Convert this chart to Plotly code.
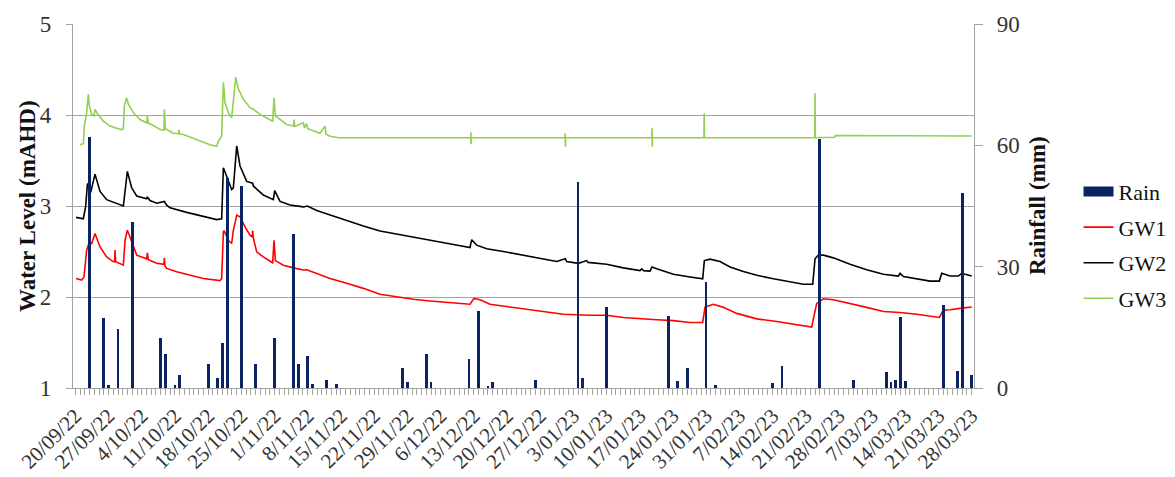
import pandas as pd
import plotly.graph_objects as go

# Daily rainfall (mm)
rain_date = [
    "2022-09-23", "2022-09-26", "2022-09-27", "2022-09-29", "2022-10-02",
    "2022-10-08", "2022-10-09", "2022-10-11", "2022-10-12", "2022-10-18",
    "2022-10-20", "2022-10-21", "2022-10-22", "2022-10-25", "2022-10-28",
    "2022-11-01", "2022-11-05", "2022-11-06", "2022-11-08", "2022-11-09",
    "2022-11-12", "2022-11-14", "2022-11-28", "2022-11-29", "2022-12-03",
    "2022-12-04", "2022-12-12", "2022-12-14", "2022-12-16", "2022-12-17",
    "2022-12-26", "2023-01-04", "2023-01-05", "2023-01-10", "2023-01-23",
    "2023-01-25", "2023-01-27", "2023-01-31", "2023-02-02", "2023-02-14",
    "2023-02-16", "2023-02-24", "2023-03-03", "2023-03-10", "2023-03-11",
    "2023-03-12", "2023-03-13", "2023-03-14", "2023-03-22", "2023-03-25",
    "2023-03-26", "2023-03-28",
]
rain_mm = [
    62.0, 17.2, 0.7, 14.7, 41.0,
    12.3, 8.5, 0.7, 3.3, 6.0,
    2.5, 11.2, 52.0, 50.0, 6.0,
    12.3, 38.0, 6.0, 7.9, 1.1,
    2.1, 1.1, 5.0, 1.4, 8.5,
    1.4, 7.1, 19.0, 0.4, 1.4,
    2.1, 51.0, 2.5, 20.0, 17.9,
    1.7, 5.0, 26.2, 0.7, 1.3,
    5.4, 61.6, 2.1, 4.0, 1.4,
    2.1, 17.6, 1.7, 20.4, 4.2,
    48.2, 3.3,
]

# Groundwater levels (mAHD) as (days since 20/09/2022, level)
gw1 = [
    (0.14, 2.204), (1.33, 2.186), (1.82, 2.22), (2.38, 2.515), (2.95, 2.606),
    (3.44, 2.588), (4.14, 2.697), (5.2, 2.55), (6.6, 2.44), (8.01, 2.387),
    (8.29, 2.387), (8.36, 2.515), (8.5, 2.387), (9.41, 2.37), (10.12, 2.35),
    (10.47, 2.624), (10.96, 2.734), (11.52, 2.66), (12.23, 2.55), (12.93, 2.46),
    (15.04, 2.42), (15.18, 2.485), (15.39, 2.41), (17.15, 2.37), (18.69, 2.36),
    (18.76, 2.43), (18.9, 2.34), (19.26, 2.314), (21.36, 2.277), (24.18, 2.24),
    (26.99, 2.204), (30.5, 2.18), (30.85, 2.204), (31.21, 2.715), (31.35, 2.73),
    (32.26, 2.624), (32.96, 2.588), (33.31, 2.73), (34.02, 2.9), (34.72, 2.88),
    (35.77, 2.77), (36.83, 2.68), (37.32, 2.66), (37.39, 2.73), (37.53, 2.65),
    (38.23, 2.496), (39.64, 2.44), (41.6, 2.376), (41.89, 2.624), (42.17, 2.40),
    (43.86, 2.35), (45.96, 2.32), (48.08, 2.296), (48.78, 2.30), (50.89, 2.26),
    (53.7, 2.204), (57.21, 2.15), (60.73, 2.095), (64.24, 2.03), (67.76, 2.0),
    (71.27, 1.975), (74.79, 1.956), (78.3, 1.94), (83.22, 1.92), (84.07, 1.985),
    (85.33, 1.97), (87.44, 1.92), (90.96, 1.894), (95.88, 1.858), (99.39, 1.83),
    (102.91, 1.81), (108.53, 1.80), (112.04, 1.80), (115.56, 1.775), (119.07, 1.76),
    (122.59, 1.75), (126.1, 1.74), (129.62, 1.72), (132.29, 1.72), (132.78, 1.89),
    (134.54, 1.92), (136.65, 1.886), (139.46, 1.82), (143.68, 1.76), (147.89, 1.73),
    (152.11, 1.70), (155.27, 1.67), (156.33, 1.93), (157.74, 1.98), (159.84, 1.97),
    (163.36, 1.93), (166.87, 1.886), (170.39, 1.84), (173.9, 1.83), (177.42, 1.81),
    (180.23, 1.79), (182.2, 1.775), (183.04, 1.856), (184.45, 1.86), (186.56, 1.875),
    (189.02, 1.89),
]
gw2 = [
    (0.14, 2.875), (1.68, 2.86), (2.17, 2.995), (2.53, 3.235), (2.74, 3.25),
    (3.23, 3.15), (4.14, 3.35), (5.2, 3.16), (6.6, 3.07), (8.01, 3.04),
    (9.77, 3.0), (10.12, 3.0), (10.96, 3.38), (11.87, 3.2), (12.93, 3.11),
    (15.04, 3.08), (15.18, 3.1), (15.74, 3.06), (17.15, 3.03), (18.76, 3.05),
    (19.26, 3.01), (19.96, 2.98), (23.47, 2.93), (26.99, 2.89), (29.8, 2.85),
    (30.85, 2.86), (31.21, 3.42), (32.96, 3.18), (33.31, 3.2), (34.02, 3.66),
    (34.72, 3.44), (36.13, 3.27), (37.39, 3.25), (37.53, 3.22), (39.64, 3.12),
    (41.75, 3.07), (42.03, 3.17), (43.16, 3.05), (45.26, 3.01), (48.08, 2.99),
    (48.92, 3.0), (50.89, 2.95), (53.7, 2.90), (57.21, 2.843), (60.73, 2.78),
    (64.24, 2.726), (67.76, 2.69), (71.27, 2.66), (74.79, 2.62), (78.3, 2.59),
    (83.22, 2.544), (83.57, 2.63), (84.63, 2.57), (86.74, 2.53), (90.25, 2.50),
    (94.47, 2.46), (98.69, 2.42), (101.5, 2.39), (103.33, 2.42), (103.6, 2.39),
    (106.07, 2.37), (107.83, 2.40), (108.1, 2.38), (112.04, 2.36), (115.56, 2.32),
    (119.07, 2.29), (119.43, 2.31), (119.8, 2.29), (121.18, 2.285), (121.6, 2.33),
    (122.59, 2.31), (126.1, 2.25), (129.62, 2.22), (132.29, 2.20), (132.64, 2.40),
    (133.84, 2.416), (135.94, 2.39), (138.05, 2.33), (140.87, 2.28), (143.68, 2.24),
    (147.19, 2.20), (150.71, 2.17), (153.52, 2.14), (155.49, 2.14), (155.98, 2.42),
    (156.68, 2.46), (157.74, 2.46), (159.84, 2.43), (163.36, 2.36), (166.87, 2.30),
    (170.39, 2.25), (173.55, 2.23), (173.9, 2.26), (174.61, 2.225), (177.42, 2.20),
    (180.23, 2.175), (182.2, 2.175), (182.69, 2.26), (184.45, 2.23), (186.21, 2.23),
    (186.91, 2.26), (189.02, 2.23),
]
gw3 = [
    (0.98, 3.674), (1.68, 3.685), (1.89, 3.878), (2.38, 4.026), (2.74, 4.23),
    (2.95, 4.1), (3.44, 4.007), (3.93, 3.99), (4.14, 4.063), (4.49, 4.026),
    (5.9, 3.933), (7.3, 3.878), (8.36, 3.86), (9.77, 3.84), (10.12, 3.85),
    (10.33, 4.1), (10.82, 4.19), (11.17, 4.12), (12.23, 4.026), (13.63, 3.95),
    (15.04, 3.915), (15.18, 3.99), (15.39, 3.91), (16.09, 3.896), (17.85, 3.84),
    (18.69, 3.835), (18.76, 4.063), (18.97, 3.85), (20.66, 3.80), (21.78, 3.795),
    (21.85, 3.84), (21.99, 3.79), (22.77, 3.785), (25.58, 3.73), (28.39, 3.674),
    (29.8, 3.656), (30.15, 3.71), (30.85, 3.767), (31.21, 4.36), (31.56, 4.137),
    (32.26, 4.026), (32.96, 3.97), (33.31, 4.174), (33.81, 4.415), (34.37, 4.285),
    (35.42, 4.174), (36.83, 4.08), (37.53, 4.063), (38.94, 4.007), (41.6, 3.933),
    (41.89, 4.19), (42.17, 3.99), (44.56, 3.896), (46.04, 3.88), (46.11, 3.95),
    (46.25, 3.875), (48.08, 3.915), (48.3, 3.86), (48.78, 3.905), (49.0, 3.85),
    (49.48, 3.84), (51.59, 3.80), (52.64, 3.878), (52.85, 3.79), (53.7, 3.767),
    (55.5, 3.75), (83.35, 3.75), (83.4, 3.81), (83.45, 3.68), (83.5, 3.75),
    (103.25, 3.75), (103.3, 3.80), (103.35, 3.65), (103.4, 3.75), (121.55, 3.75),
    (121.6, 3.86), (121.65, 3.65), (121.7, 3.75), (132.55, 3.75), (132.6, 4.02),
    (132.65, 3.75), (155.93, 3.75), (155.98, 4.24), (156.05, 3.75), (160.1, 3.755),
    (160.2, 3.775), (189.02, 3.77),
]

START = pd.Timestamp("2022-09-20")
SERIF = "Liberation Serif"
GRID = "#a3a3a3"
TEXT = "#333333"


def to_xy(series):
    days, levels = zip(*series)
    return START + pd.to_timedelta(list(days), unit="D"), list(levels)


fig = go.Figure()

fig.add_trace(go.Bar(
    x=pd.to_datetime(rain_date), y=rain_mm, yaxis="y2",
    marker=dict(color="#0a2463", line=dict(width=0)),
    width=0.6 * 86400000, showlegend=False, name="Rain",
))
# legend key for the rainfall bars
fig.add_trace(go.Scatter(
    x=[None], y=[None], mode="lines", name="Rain",
    line=dict(color="#0a2463", width=11), legendgroup="a",
))

for name, data, color, grp in [("GW1", gw1, "#ff0000", "b"),
                               ("GW2", gw2, "#000000", "c"),
                               ("GW3", gw3, "#92d050", "d")]:
    xs, ys = to_xy(data)
    fig.add_trace(go.Scatter(
        x=xs, y=ys, mode="lines", name=name, legendgroup=grp,
        line=dict(color=color, width=1.6),
    ))

fig.update_layout(
    width=1175, height=477,
    margin=dict(l=73, r=201, t=24, b=89, autoexpand=False),
    paper_bgcolor="white", plot_bgcolor="white",
    font=dict(family=SERIF, size=21, color=TEXT),
    showlegend=True,
    legend=dict(
        x=1.116, y=0.597, xanchor="left", yanchor="top",
        traceorder="grouped", tracegroupgap=4,
        font=dict(family=SERIF, size=22, color="#111111"),
        bgcolor="rgba(0,0,0,0)",
    ),
    bargap=0,
    xaxis=dict(
        type="date", automargin=False,
        range=["2022-09-19 12:00", "2023-03-28 12:00"],
        tick0="2022-09-20", dtick=7 * 86400000,
        tickformat="%-d/%m/%y", tickangle=-45,
        ticks="outside", ticklen=6, tickcolor=GRID, ticklabelstandoff=0,
        showline=True, linecolor=GRID, linewidth=1.3,
        showgrid=False, zeroline=False,
        minor=dict(ticks="outside", ticklen=6, dtick=86400000,
                   tick0="2022-09-20", tickcolor=GRID, showgrid=False),
        tickfont=dict(family=SERIF, size=21, color=TEXT),
    ),
    yaxis=dict(
        range=[1, 5], dtick=1, tick0=1, automargin=False,
        showgrid=True, gridcolor=GRID, gridwidth=1.3,
        ticks="outside", ticklen=6, tickcolor=GRID, ticklabelstandoff=10,
        showline=True, linecolor=GRID, linewidth=1.3, zeroline=False,
        tickfont=dict(family=SERIF, size=23, color=TEXT),
    ),
    yaxis2=dict(
        range=[0, 90], dtick=30, tick0=0, automargin=False,
        overlaying="y", side="right", showgrid=False,
        ticks="outside", ticklen=8, tickcolor=GRID, ticklabelstandoff=9,
        showline=True, linecolor=GRID, linewidth=1.3, zeroline=False,
        tickfont=dict(family=SERIF, size=23, color=TEXT),
    ),
    annotations=[
        dict(text="<b>Water Level (mAHD)</b>", textangle=-90,
             xref="paper", yref="paper", x=-0.051, y=0.5,
             xanchor="center", yanchor="middle", showarrow=False,
             font=dict(family=SERIF, size=23, color="#111111")),
        dict(text="<b>Rainfall (mm)</b>", textangle=-90,
             xref="paper", yref="paper", x=1.07, y=0.5,
             xanchor="center", yanchor="middle", showarrow=False,
             font=dict(family=SERIF, size=23, color="#111111")),
    ],
)

fig.write_html("out.html")
